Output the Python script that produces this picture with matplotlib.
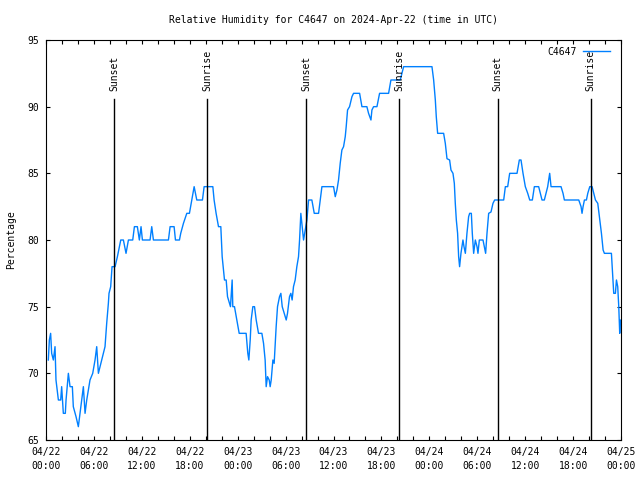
import matplotlib
matplotlib.use("Agg")
import matplotlib.pyplot as plt
from matplotlib.ticker import FixedLocator, MultipleLocator

# hours since 2024-04-22 00:00 UTC, relative humidity (%)
hours = [0.29, 0.42, 0.58, 0.71, 0.92, 1.13, 1.25, 1.55, 1.84, 1.96, 2.17, 2.42, 2.51, 2.80,
         3.01, 3.30, 3.42, 3.76, 4.05, 4.26, 4.68, 4.89, 5.10, 5.51, 5.85, 6.14, 6.35, 6.56,
         6.77, 6.97, 7.39, 7.60, 7.81, 7.89, 8.10, 8.27, 8.65, 8.94, 9.19, 9.36, 9.69, 10.02,
         10.32, 10.86, 11.07, 11.44, 11.69, 11.90, 12.07, 12.41, 13.03, 13.24, 13.45, 15.33,
         15.54, 16.04, 16.21, 16.71, 16.87, 17.21, 17.63, 17.96, 18.25, 18.55, 18.71, 18.88,
         19.59, 19.80, 20.89, 21.05, 21.30, 21.60, 21.89, 22.06, 22.22, 22.35, 22.56, 22.73,
         22.98, 23.10, 23.31, 23.39, 23.60, 23.89, 24.19, 25.06, 25.27, 25.40, 25.57, 25.69,
         25.90, 26.11, 26.32, 26.61, 27.03, 27.24, 27.44, 27.57, 27.74, 27.95, 28.07, 28.20,
         28.41, 28.57, 28.70, 28.82, 28.99, 29.24, 29.41, 29.58, 29.83, 30.08, 30.24, 30.49,
         30.66, 30.82, 30.99, 31.20, 31.41, 31.62, 31.75, 31.91, 32.08, 32.25, 32.46, 32.67,
         32.88, 33.29, 33.59, 34.13, 34.34, 34.55, 36.01, 36.22, 36.43, 36.63, 36.84, 37.05,
         37.26, 37.47, 37.59, 37.76, 38.01, 38.31, 38.51, 39.27, 39.56, 40.18, 40.39, 40.69,
         40.81, 41.02, 41.44, 41.77, 42.90, 43.19, 44.36, 44.57, 44.78, 48.33, 48.54, 48.75,
         48.87, 49.04, 49.79, 50.00, 50.21, 50.54, 50.71, 50.96, 51.13, 51.25, 51.38, 51.54,
         51.67, 51.79, 51.96, 52.09, 52.21, 52.34, 52.51, 52.71, 52.92, 53.05, 53.26, 53.38,
         53.55, 53.76, 53.97, 54.09, 54.26, 54.72, 54.89, 55.05, 55.22, 55.43, 55.72, 55.97,
         56.18, 56.81, 57.31, 57.52, 57.81, 58.06, 58.98, 59.27, 59.48, 59.73, 60.02, 60.32,
         60.57, 60.90, 61.15, 61.69, 61.90, 62.11, 62.40, 62.61, 62.82, 63.07, 63.24, 64.49,
         64.74, 64.91, 66.71, 67.00, 67.12, 67.25, 67.42, 67.67, 67.84, 68.09, 68.38, 68.59,
         68.80, 69.09, 69.34, 69.55, 69.76, 69.92, 70.80, 70.97, 71.09, 71.30, 71.43, 71.59,
         71.72, 71.84, 71.93, 72.0]
humidity = [71, 72.5, 73, 71.5, 71, 72, 69.5, 68, 68, 69, 67, 67, 68, 70,
            69, 69, 67.5, 66.75, 66, 67, 69, 67, 68, 69.5, 70, 71, 72, 70,
            70.5, 71, 72, 73.75, 75.25, 76, 76.5, 78, 78, 78.75, 79.5, 80, 80, 79,
            80, 80, 81, 81, 80, 81, 80, 80, 80, 81, 80, 80,
            81, 81, 80, 80, 80.5, 81.25, 82, 82, 83, 84, 83.5, 83,
            83, 84, 84, 83, 82, 81, 81, 78.75, 77.75, 77, 77, 75.75,
            75.25, 75, 77, 75, 75, 74, 73, 73, 71.5, 71, 72.5, 74,
            75, 75, 74, 73, 73, 72.25, 71, 69, 69.75, 69.5, 69, 69.5,
            71, 70.75, 72.25, 73.5, 75, 75.75, 76, 75, 74.5, 74, 74.5, 75.75,
            76, 75.5, 76.5, 77, 78, 78.75, 80, 82, 81, 80, 80.75, 81.5,
            83, 83, 82, 82, 83, 84, 84, 83.25, 83.75, 84.5, 85.75, 86.75,
            87, 87.75, 88.5, 89.75, 90, 90.75, 91, 91, 90, 90, 89.5, 89,
            89.75, 90, 90, 91, 91, 92, 92, 92.5, 93, 93, 92, 90.5,
            89.25, 88, 88, 87.25, 86.1, 86, 85.25, 85, 84.25, 82.75, 81.5, 80.5,
            78.75, 78, 79, 79.5, 80, 79.5, 79, 80.5, 81.75, 82, 82, 80.5,
            79, 80, 79.5, 79, 80, 80, 79.5, 79, 80.5, 82, 82.1, 82.75,
            83, 83, 83, 84, 84, 85, 85, 86, 86, 85, 84, 83.5,
            83, 83, 84, 84, 83.5, 83, 83, 83.5, 84, 85, 84, 84,
            83.5, 83, 83, 82.5, 82, 82.5, 83, 83, 83.5, 84, 84, 83.5,
            83, 82.75, 81.5, 80.5, 79.25, 79, 79, 77.25, 76, 76, 77, 76.5,
            75, 73, 74, 73.75]

sunset_hours = [8.56, 32.6, 56.55]
sunrise_hours = [20.2, 44.2, 68.2]

tick_hours = [0, 6, 12, 18, 24, 30, 36, 42, 48, 54, 60, 66, 72]
tick_labels = ["04/22\n00:00", "04/22\n06:00", "04/22\n12:00", "04/22\n18:00",
               "04/23\n00:00", "04/23\n06:00", "04/23\n12:00", "04/23\n18:00",
               "04/24\n00:00", "04/24\n06:00", "04/24\n12:00", "04/24\n18:00",
               "04/25\n00:00"]

plt.rcParams['font.family'] = 'DejaVu Sans Mono'
plt.rcParams['font.size'] = 7

fig = plt.figure(figsize=(6.4, 4.8), dpi=100)
ax = fig.add_axes([46 / 640, 40 / 480, 575 / 640, 400 / 480])

ax.plot(hours, humidity, color='#0080ff', linewidth=1.0, label='C4647')

for h in sunset_hours:
    ax.plot([h, h], [65, 90.55], color='black', linewidth=1.0)
    ax.text(h, 91.2, 'Sunset', rotation=90, ha='center', va='bottom')
for h in sunrise_hours:
    ax.plot([h, h], [65, 90.55], color='black', linewidth=1.0)
    ax.text(h, 91.2, 'Sunrise', rotation=90, ha='center', va='bottom')

ax.set_xlim(0, 72)
ax.set_ylim(65, 95)
ax.xaxis.set_major_locator(FixedLocator(tick_hours))
ax.set_xticklabels(tick_labels, linespacing=1.5)
ax.xaxis.set_minor_locator(MultipleLocator(2))
ax.yaxis.set_major_locator(MultipleLocator(5))
ax.tick_params(which='both', direction='in', top=True, right=True,
               length=3, width=0.8, pad=5)
for s in ax.spines.values():
    s.set_linewidth(0.8)

ax.set_ylabel('Percentage', labelpad=8)
ax.set_title('Relative Humidity for C4647 on 2024-Apr-22 (time in UTC)',
             fontsize=7, pad=12)

ax.legend(loc='upper right', bbox_to_anchor=(0.993, 1.0), frameon=False,
          markerfirst=False, handlelength=2.8, handletextpad=0.6,
          borderaxespad=0.3)

fig.savefig('out.png', dpi=100)
